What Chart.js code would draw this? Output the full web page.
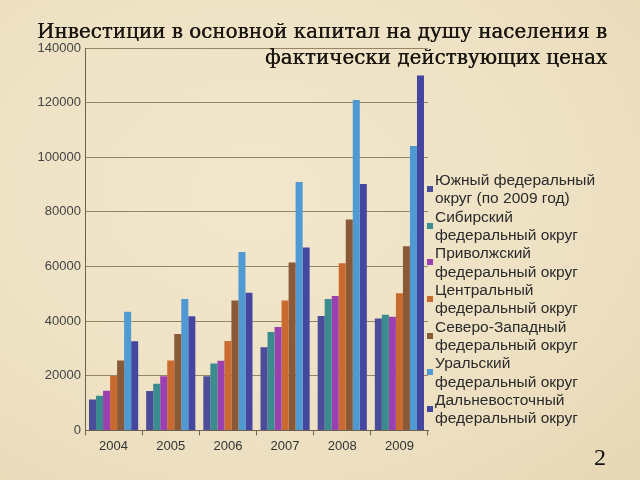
<!DOCTYPE html>
<html>
<head>
<meta charset="utf-8">
<script src="https://cdn.jsdelivr.net/npm/chart.js@4"></script>
<style>
  html, body { margin: 0; padding: 0; }
  body {
    width: 640px; height: 480px; overflow: hidden; position: relative;
    background: radial-gradient(ellipse at 40% 40%, #f2e7cd 0%, #eee1c3 60%, #e6d6b4 100%);
  }
  #wrap { position: absolute; left: 0; top: 0; width: 640px; height: 480px; }
  #title {
    position: absolute; right: 33px; top: 19px; text-align: right;
    font-family: "DejaVu Serif", "Liberation Serif", serif; font-size: 19.9px; font-weight: normal;
    color: #1a160f; line-height: 26px; white-space: nowrap;
    text-shadow: 0.4px 0 0 #1a160f;
  }
  #legend { position: absolute; left: 426px; top: 171px; font-family: "Liberation Sans", Arial, sans-serif; font-size: 15.5px; color: #2a2a2a; }
  .item { position: relative; padding-left: 9px; height: 36.7px; line-height: 18.3px; }
  .mark { position: absolute; left: 1px; top: 15px; width: 6px; height: 6px; }
  #page { position: absolute; left: 594px; top: 444px; font-family: "Liberation Serif", serif; font-size: 24px; color: #111; }
</style>
</head>
<body>
<div id="wrap"><canvas id="chart" width="640" height="480"></canvas></div>
<div id="title">Инвестиции в основной капитал на душу населения в<br>фактически действующих ценах</div>
<div id="legend"></div>
<div id="page">2</div>
<script>
const years = ['2004', '2005', '2006', '2007', '2008', '2009'];
const seriesNames = [
  ['Южный федеральный', 'округ (по 2009 год)'],
  ['Сибирский', 'федеральный округ'],
  ['Приволжский', 'федеральный округ'],
  ['Центральный', 'федеральный округ'],
  ['Северо-Западный', 'федеральный округ'],
  ['Уральский', 'федеральный округ'],
  ['Дальневосточный', 'федеральный округ']
];
const southern = [11300, 14400, 19800, 30400, 41900, 41000];
const siberian = [12700, 17100, 24500, 36000, 48100, 42300];
const volga = [14500, 19800, 25500, 37900, 49200, 41600];
const central = [19900, 25600, 32700, 47600, 61200, 50200];
const northwest = [25600, 35300, 47600, 61500, 77200, 67400];
const ural = [43400, 48100, 65300, 90900, 121000, 104100];
const fareast = [32600, 41800, 50400, 67000, 90200, 129900];
const seriesColors = ['#4b4c9a', '#3a8c8e', '#9a40b0', '#c96a30', '#8a5a38', '#4f9ad2', '#4546a0'];
const yTicks = [0, 20000, 40000, 60000, 80000, 100000, 120000, 140000];

const seriesData = [southern, siberian, volga, central, northwest, ural, fareast];

const ctx = document.getElementById('chart');
new Chart(ctx, {
  type: 'bar',
  data: {
    labels: years,
    datasets: seriesData.map((d, i) => ({
      label: seriesNames[i].join(' '),
      data: d,
      backgroundColor: seriesColors[i],
      borderWidth: 0,
      categoryPercentage: 0.86,
      barPercentage: 1.0
    }))
  },
  options: {
    responsive: false,
    animation: false,
    layout: { padding: { left: 0, right: 212, top: 48, bottom: 23 } },
    plugins: { legend: { display: false }, tooltip: { enabled: false } },
    scales: {
      x: {
        grid: { display: true, drawOnChartArea: false, tickLength: 5, color: '#6d6252' },
        border: { color: '#6d6252' },
        ticks: { padding: 3, color: '#333', font: { family: 'Liberation Sans', size: 13 } }
      },
      y: {
        min: 0, max: 140000,
        afterFit: s => { s.width = 85; },
        afterBuildTicks: s => { s.ticks = yTicks.map(v => ({ value: v })); },
        grid: { color: 'rgba(120,100,70,0.75)', drawTicks: false, lineWidth: 1 },
        border: { color: '#6d6252' },
        ticks: { padding: 4, color: '#444', font: { family: 'Liberation Sans', size: 13 }, callback: v => String(v) }
      }
    }
  }
});

const legend = document.getElementById('legend');
seriesNames.forEach((lines, i) => {
  const item = document.createElement('div');
  item.className = 'item';
  item.innerHTML = '<span class="mark" style="background:' + seriesColors[i] + '"></span>' + lines.join('<br>');
  legend.appendChild(item);
});
</script>
</body>
</html>
